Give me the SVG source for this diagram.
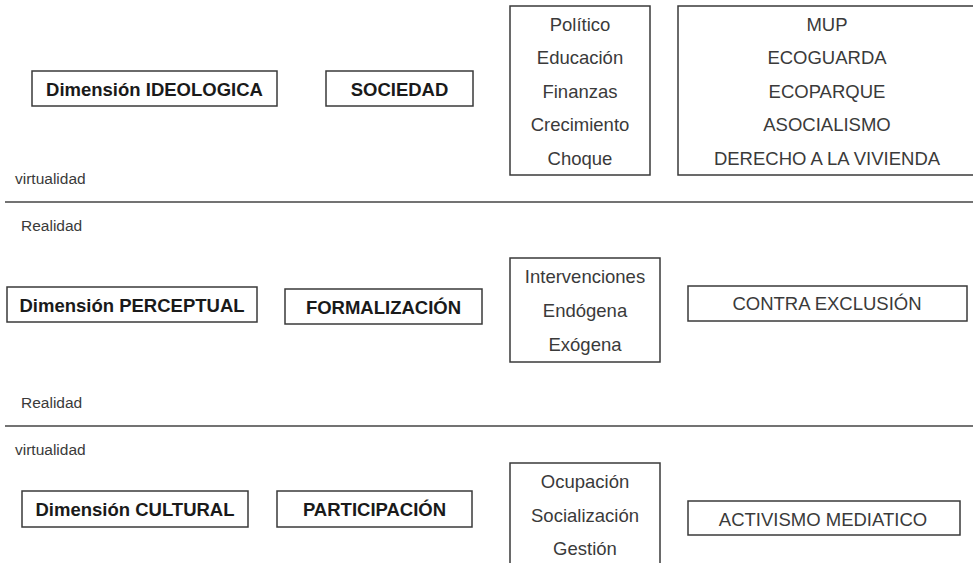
<svg xmlns="http://www.w3.org/2000/svg" width="973" height="563" viewBox="0 0 973 563">
<style>
.box{fill:#fff;stroke:#3a3a3a;stroke-width:1.5}
.b{font-family:"Liberation Sans",Arial,sans-serif;font-weight:bold;font-size:18.5px;fill:#1a1a1a;text-anchor:middle}
.t{font-family:"Liberation Sans",Arial,sans-serif;font-size:18.5px;fill:#3a3a3a;text-anchor:middle}
.s{font-family:"Liberation Sans",Arial,sans-serif;font-size:15.5px;fill:#3a3a3a}
.sep{stroke:#444;stroke-width:1.5}
</style>
<rect width="973" height="563" fill="#fff"/>
<g id="separators">
<line class="sep" x1="5" y1="202" x2="973" y2="202"/>
<line class="sep" x1="5" y1="426" x2="973" y2="426"/>
</g>
<g id="labels">
<text class="s" x="15" y="184">virtualidad</text>
<text class="s" x="21" y="231">Realidad</text>
<text class="s" x="21" y="408">Realidad</text>
<text class="s" x="15" y="455">virtualidad</text>
</g>
<g id="dim-ideologica"><rect class="box" x="32" y="71" width="245" height="35"/><text class="b" x="154.5" y="95.5">Dimensión IDEOLOGICA</text></g>
<g id="sociedad"><rect class="box" x="326" y="71" width="147" height="35"/><text class="b" x="399.5" y="95.5">SOCIEDAD</text></g>
<g id="list-sociedad"><rect class="box" x="510" y="6" width="140" height="169"/>
<text class="t" x="580" y="30.5">Político</text>
<text class="t" x="580" y="64">Educación</text>
<text class="t" x="580" y="97.5">Finanzas</text>
<text class="t" x="580" y="131">Crecimiento</text>
<text class="t" x="580" y="164.5">Choque</text></g>
<g id="list-movimientos"><rect class="box" x="678" y="6" width="310" height="169"/>
<text class="t" x="827" y="30.5">MUP</text>
<text class="t" x="827" y="64">ECOGUARDA</text>
<text class="t" x="827" y="97.5">ECOPARQUE</text>
<text class="t" x="827" y="131">ASOCIALISMO</text>
<text class="t" x="827" y="164.5">DERECHO A LA VIVIENDA</text></g>
<g id="dim-perceptual"><rect class="box" x="7" y="287" width="250" height="35"/><text class="b" x="132" y="311.5">Dimensión PERCEPTUAL</text></g>
<g id="formalizacion"><rect class="box" x="285" y="289" width="197" height="35"/><text class="b" x="383.5" y="313.5">FORMALIZACIÓN</text></g>
<g id="list-intervenciones"><rect class="box" x="510" y="258" width="150" height="104"/>
<text class="t" x="585" y="283">Intervenciones</text>
<text class="t" x="585" y="317">Endógena</text>
<text class="t" x="585" y="351">Exógena</text></g>
<g id="contra-exclusion"><rect class="box" x="688" y="286" width="279" height="35"/><text class="t" x="827" y="310">CONTRA EXCLUSIÓN</text></g>
<g id="dim-cultural"><rect class="box" x="22" y="491" width="226" height="36"/><text class="b" x="135" y="515.5">Dimensión CULTURAL</text></g>
<g id="participacion"><rect class="box" x="277" y="491" width="195" height="36"/><text class="b" x="374.5" y="515.5">PARTICIPACIÓN</text></g>
<g id="list-participacion"><rect class="box" x="510" y="463" width="150" height="110"/>
<text class="t" x="585" y="488">Ocupación</text>
<text class="t" x="585" y="522">Socialización</text>
<text class="t" x="585" y="555">Gestión</text></g>
<g id="activismo"><rect class="box" x="688" y="501" width="272" height="34"/><text class="t" x="823" y="526">ACTIVISMO MEDIATICO</text></g>
</svg>
